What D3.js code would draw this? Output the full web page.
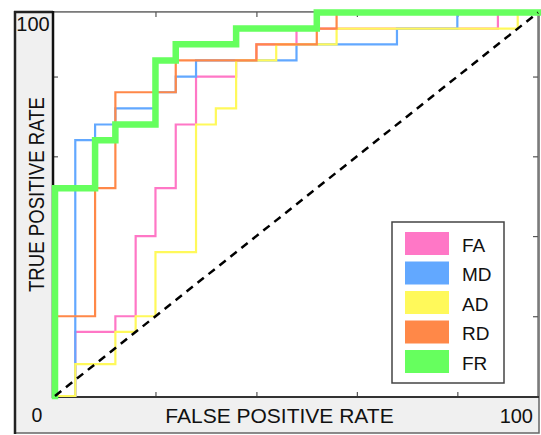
<!DOCTYPE html>
<html>
<head>
<meta charset="utf-8">
<script src="https://cdn.jsdelivr.net/npm/d3@7"></script>
<style>
  body { margin: 0; background: #fff; }
  svg text { font-family: "Liberation Sans", Arial, sans-serif; fill: #111; }
</style>
</head>
<body>
<div id="chart"></div>
<script>
// ROC curves, values in percent (points of the staircase, step-before)
const seriesNames = ["FA", "MD", "AD", "RD", "FR"];
const seriesColors = ["#ff77c6", "#62a8ff", "#fff95a", "#ff8848", "#66ff5e"];

const faFPR = [0, 4.2, 12.5, 16.7, 20.8, 25, 29.2, 37.5, 41.7, 50, 91.7, 100];
const faTPR = [0, 0, 16.7, 20.8, 41.7, 54.2, 70.8, 83.3, 87.5, 91.7, 95.8, 100];

const mdFPR = [0, 4.2, 8.3, 12.5, 20.8, 25, 29.2, 50, 70.8, 83.3, 100];
const mdTPR = [0, 0, 66.7, 70.8, 75, 79.2, 83.3, 87.5, 91.7, 95.8, 100];

const adFPR = [0, 4.2, 12.5, 16.7, 20.8, 29.2, 33.3, 37.5, 45.8, 58.3, 95.8, 100];
const adTPR = [0, 0, 8.3, 16.7, 20.8, 37.5, 70.8, 75, 87.5, 91.7, 95.8, 100];

const rdFPR = [0, 8.3, 12.5, 25, 41.7, 54.2, 58.3, 100];
const rdTPR = [0, 20.8, 54.2, 79.2, 87.5, 91.7, 95.8, 100];

const frFPR = [0, 8.3, 12.5, 20.8, 25, 37.5, 54.2, 100];
const frTPR = [0, 54.2, 66.7, 70.8, 87.5, 91.7, 95.8, 100];

const tickValues = [20.8, 41.7, 62.5, 83.3];
const xTickLabels = ["0", "100"];
const yTickLabels = ["100"];
const chanceLine = [[0, 0], [100, 100]];

const width = 541, height = 435;

const svg = d3.select("#chart").append("svg")
    .attr("width", width)
    .attr("height", height);

const x = d3.scaleLinear().domain([0, 100]).range([55, 538]);
const y = d3.scaleLinear().domain([0, 100]).range([396, 12.5]);

// outer gray panel
svg.append("rect")
    .attr("x", 15).attr("y", 12)
    .attr("width", 524).attr("height", 421)
    .attr("fill", "#f0f0f0")
    .attr("stroke", "#666")
    .attr("stroke-width", 1.5);
svg.append("line")
    .attr("x1", 15).attr("x2", 15).attr("y1", 11).attr("y2", 434)
    .attr("stroke", "#222").attr("stroke-width", 2.5);
svg.append("line")
    .attr("x1", 14).attr("x2", 53).attr("y1", 12).attr("y2", 12)
    .attr("stroke", "#222").attr("stroke-width", 2.5);

// plot area
svg.append("rect")
    .attr("x", 53).attr("y", 12)
    .attr("width", 485).attr("height", 385)
    .attr("fill", "#fff")
    .attr("stroke", "#777")
    .attr("stroke-width", 1.5);

// inward ticks on all four sides
const noLabel = () => "";
svg.append("g").attr("transform", "translate(0,397)")
    .call(d3.axisBottom(x).tickValues(tickValues).tickSizeInner(-5).tickSizeOuter(0).tickFormat(noLabel));
svg.append("g").attr("transform", "translate(0,12)")
    .call(d3.axisTop(x).tickValues(tickValues).tickSizeInner(-5).tickSizeOuter(0).tickFormat(noLabel));
svg.append("g").attr("transform", "translate(53,0)")
    .call(d3.axisLeft(y).tickValues(tickValues).tickSizeInner(-5).tickSizeOuter(0).tickFormat(noLabel));
svg.append("g").attr("transform", "translate(538,0)")
    .call(d3.axisRight(y).tickValues(tickValues).tickSizeInner(-5).tickSizeOuter(0).tickFormat(noLabel));
svg.selectAll(".domain").remove();
svg.selectAll(".tick line").attr("stroke", "#555").attr("stroke-width", 1.2);

// strong left and bottom axis lines
svg.append("line")
    .attr("x1", 53).attr("x2", 53).attr("y1", 11).attr("y2", 398)
    .attr("stroke", "#111").attr("stroke-width", 2.5);
svg.append("line")
    .attr("x1", 52).attr("x2", 539).attr("y1", 397).attr("y2", 397)
    .attr("stroke", "#333").attr("stroke-width", 2);

// curves
const line = d3.line()
    .x(d => x(d[0]))
    .y(d => y(d[1]))
    .curve(d3.curveStepBefore);

const allFPR = [faFPR, mdFPR, adFPR, rdFPR, frFPR];
const allTPR = [faTPR, mdTPR, adTPR, rdTPR, frTPR];

seriesNames.forEach((name, i) => {
    const pts = allFPR[i].map((v, j) => [v, allTPR[i][j]]);
    svg.append("path")
        .datum(pts)
        .attr("d", line)
        .attr("fill", "none")
        .attr("stroke", seriesColors[i])
        .attr("stroke-width", name === "FR" ? 6.5 : 2.2)
        .attr("stroke-linejoin", "miter")
        .attr("stroke-linecap", "square");
});

// chance diagonal
svg.append("path")
    .datum(chanceLine)
    .attr("d", d3.line().x(d => x(d[0])).y(d => y(d[1])))
    .attr("stroke", "#000")
    .attr("stroke-width", 2.5)
    .attr("stroke-dasharray", "8,6")
    .attr("fill", "none");

// legend
const legend = svg.append("g");
legend.append("rect")
    .attr("x", 392).attr("y", 222)
    .attr("width", 112).attr("height", 161)
    .attr("fill", "#fff")
    .attr("stroke", "#444")
    .attr("stroke-width", 1.5);
seriesNames.forEach((name, i) => {
    const top = 232 + i * 29.5;
    legend.append("rect")
        .attr("x", 405).attr("y", top)
        .attr("width", 44).attr("height", 23)
        .attr("fill", seriesColors[i]);
    legend.append("text")
        .attr("x", 462).attr("y", top + 19.5)
        .attr("font-size", 19)
        .text(name);
});

// tick labels
svg.append("text")
    .attr("x", 37).attr("y", 422)
    .attr("text-anchor", "middle")
    .attr("font-size", 19.5)
    .text(xTickLabels[0]);
svg.append("text")
    .attr("x", 533).attr("y", 423)
    .attr("text-anchor", "end")
    .attr("font-size", 20)
    .text(xTickLabels[1]);
svg.append("text")
    .attr("x", 33).attr("y", 31)
    .attr("text-anchor", "middle")
    .attr("font-size", 20)
    .text(yTickLabels[0]);

// axis titles
svg.append("text")
    .attr("x", 279.5).attr("y", 423)
    .attr("text-anchor", "middle")
    .attr("font-size", 21)
    .text("FALSE POSITIVE RATE");
svg.append("text")
    .attr("transform", "translate(43.5,194.5) rotate(-90)")
    .attr("text-anchor", "middle")
    .attr("font-size", 22)
    .attr("textLength", 195)
    .attr("lengthAdjust", "spacingAndGlyphs")
    .text("TRUE POSITIVE RATE");
</script>
</body>
</html>
